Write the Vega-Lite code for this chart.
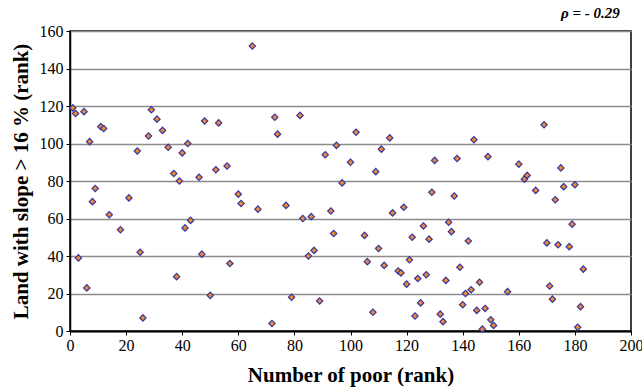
{
  "$schema": "https://vega.github.io/schema/vega-lite/v6.json",
  "autosize": {"type": "none"},
  "width": 561,
  "height": 300,
  "padding": {"left": 70, "top": 31, "right": 11, "bottom": 60},
  "background": "white",
  "config": {
    "view": {"stroke": "black", "strokeWidth": 1.5},
    "axis": {
      "labelFont": "Liberation Serif",
      "titleFont": "Liberation Serif",
      "labelFontSize": 16,
      "titleFontSize": 21,
      "titleFontWeight": "bold",
      "labelColor": "black",
      "titleColor": "black",
      "domainColor": "black",
      "tickColor": "black",
      "labelFlush": false
    }
  },
  "layer": [
    {
      "data": {
        "values": [
          {"poor": 1, "slope": 119}, {"poor": 2, "slope": 116}, {"poor": 3, "slope": 39}, {"poor": 5, "slope": 117},
          {"poor": 6, "slope": 23}, {"poor": 7, "slope": 101}, {"poor": 8, "slope": 69}, {"poor": 9, "slope": 76},
          {"poor": 11, "slope": 109}, {"poor": 12, "slope": 108}, {"poor": 14, "slope": 62}, {"poor": 18, "slope": 54},
          {"poor": 21, "slope": 71}, {"poor": 24, "slope": 96}, {"poor": 25, "slope": 42}, {"poor": 26, "slope": 7},
          {"poor": 28, "slope": 104}, {"poor": 29, "slope": 118}, {"poor": 31, "slope": 113}, {"poor": 33, "slope": 107},
          {"poor": 35, "slope": 98}, {"poor": 37, "slope": 84}, {"poor": 38, "slope": 29}, {"poor": 39, "slope": 80},
          {"poor": 40, "slope": 95}, {"poor": 41, "slope": 55}, {"poor": 42, "slope": 100}, {"poor": 43, "slope": 59},
          {"poor": 46, "slope": 82}, {"poor": 47, "slope": 41}, {"poor": 48, "slope": 112}, {"poor": 50, "slope": 19},
          {"poor": 52, "slope": 86}, {"poor": 53, "slope": 111}, {"poor": 56, "slope": 88}, {"poor": 57, "slope": 36},
          {"poor": 60, "slope": 73}, {"poor": 61, "slope": 68}, {"poor": 65, "slope": 152}, {"poor": 67, "slope": 65},
          {"poor": 72, "slope": 4}, {"poor": 73, "slope": 114}, {"poor": 74, "slope": 105}, {"poor": 77, "slope": 67},
          {"poor": 79, "slope": 18}, {"poor": 82, "slope": 115}, {"poor": 83, "slope": 60}, {"poor": 85, "slope": 40},
          {"poor": 86, "slope": 61}, {"poor": 87, "slope": 43}, {"poor": 89, "slope": 16}, {"poor": 91, "slope": 94},
          {"poor": 93, "slope": 64}, {"poor": 94, "slope": 52}, {"poor": 95, "slope": 99}, {"poor": 97, "slope": 79},
          {"poor": 100, "slope": 90}, {"poor": 102, "slope": 106}, {"poor": 105, "slope": 51}, {"poor": 106, "slope": 37},
          {"poor": 108, "slope": 10}, {"poor": 109, "slope": 85}, {"poor": 110, "slope": 44}, {"poor": 111, "slope": 97},
          {"poor": 112, "slope": 35}, {"poor": 114, "slope": 103}, {"poor": 115, "slope": 63}, {"poor": 117, "slope": 32},
          {"poor": 118, "slope": 31}, {"poor": 119, "slope": 66}, {"poor": 120, "slope": 25}, {"poor": 121, "slope": 38},
          {"poor": 122, "slope": 50}, {"poor": 123, "slope": 8}, {"poor": 124, "slope": 28}, {"poor": 125, "slope": 15},
          {"poor": 126, "slope": 56}, {"poor": 127, "slope": 30}, {"poor": 128, "slope": 49}, {"poor": 129, "slope": 74},
          {"poor": 130, "slope": 91}, {"poor": 132, "slope": 9}, {"poor": 133, "slope": 5}, {"poor": 134, "slope": 27},
          {"poor": 135, "slope": 58}, {"poor": 136, "slope": 53}, {"poor": 137, "slope": 72}, {"poor": 138, "slope": 92},
          {"poor": 139, "slope": 34}, {"poor": 140, "slope": 14}, {"poor": 141, "slope": 20}, {"poor": 142, "slope": 48},
          {"poor": 143, "slope": 22}, {"poor": 144, "slope": 102}, {"poor": 145, "slope": 11}, {"poor": 146, "slope": 26},
          {"poor": 147, "slope": 1}, {"poor": 148, "slope": 12}, {"poor": 149, "slope": 93}, {"poor": 150, "slope": 6},
          {"poor": 151, "slope": 3}, {"poor": 156, "slope": 21}, {"poor": 160, "slope": 89}, {"poor": 162, "slope": 81},
          {"poor": 163, "slope": 83}, {"poor": 166, "slope": 75}, {"poor": 169, "slope": 110}, {"poor": 170, "slope": 47},
          {"poor": 171, "slope": 24}, {"poor": 172, "slope": 17}, {"poor": 173, "slope": 70}, {"poor": 174, "slope": 46},
          {"poor": 175, "slope": 87}, {"poor": 176, "slope": 77}, {"poor": 178, "slope": 45}, {"poor": 179, "slope": 57},
          {"poor": 180, "slope": 78}, {"poor": 181, "slope": 2}, {"poor": 182, "slope": 13}, {"poor": 183, "slope": 33}
        ]
      },
      "mark": {
        "type": "point",
        "shape": "diamond",
        "filled": true,
        "size": 40,
        "fill": "#f28a2e",
        "stroke": "#3a3a9c",
        "strokeWidth": 1.2,
        "opacity": 1
      },
      "encoding": {
        "x": {
          "field": "poor",
          "type": "quantitative",
          "title": "Number of poor (rank)",
          "scale": {"domain": [0, 200], "nice": false},
          "axis": {"values": [0, 20, 40, 60, 80, 100, 120, 140, 160, 180, 200], "grid": false, "domainWidth": 2, "tickSize": 4, "labelPadding": 2, "titlePadding": 11}
        },
        "y": {
          "field": "slope",
          "type": "quantitative",
          "title": "Land with slope > 16 % (rank)",
          "scale": {"domain": [0, 160], "nice": false},
          "axis": {"values": [0, 20, 40, 60, 80, 100, 120, 140, 160], "grid": true, "gridColor": "#8c8c8c", "gridWidth": 1.3, "domainWidth": 1.5, "tickSize": 4, "labelPadding": 3, "titlePadding": 8}
        }
      }
    },
    {
      "data": {"values": [{"label": "ρ = - 0.29", "poor": 185.5, "slope": 169.5}]},
      "mark": {
        "type": "text",
        "font": "Liberation Serif",
        "fontSize": 15,
        "fontWeight": "bold",
        "fontStyle": "italic",
        "color": "black",
        "align": "center",
        "baseline": "middle",
        "clip": false
      },
      "encoding": {
        "x": {
          "field": "poor",
          "type": "quantitative",
          "title": "Number of poor (rank)",
          "scale": {"domain": [0, 200], "nice": false},
          "axis": {"values": [0, 20, 40, 60, 80, 100, 120, 140, 160, 180, 200], "grid": false, "domainWidth": 2, "tickSize": 4, "labelPadding": 2, "titlePadding": 11}
        },
        "y": {
          "field": "slope",
          "type": "quantitative",
          "title": "Land with slope > 16 % (rank)",
          "scale": {"domain": [0, 160], "nice": false},
          "axis": {"values": [0, 20, 40, 60, 80, 100, 120, 140, 160], "grid": true, "gridColor": "#8c8c8c", "gridWidth": 1.3, "domainWidth": 1.5, "tickSize": 4, "labelPadding": 3, "titlePadding": 8}
        },
        "text": {"field": "label"}
      }
    }
  ]
}
